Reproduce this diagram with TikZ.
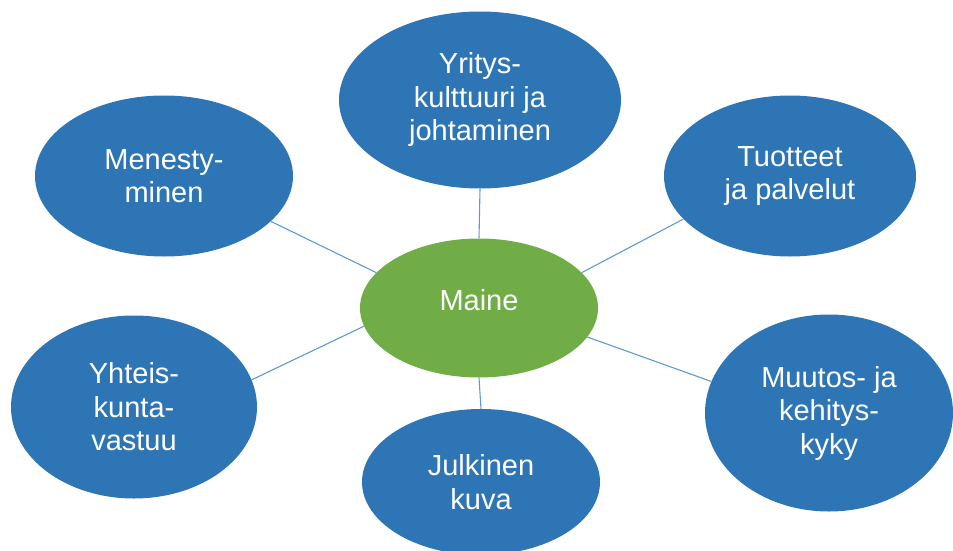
\documentclass[tikz,border=0pt]{standalone}
\usepackage{fontspec}
\setmainfont{Liberation Sans}
\usetikzlibrary{shapes.geometric}
\definecolor{mblue}{HTML}{2E75B6}
\definecolor{mgreen}{HTML}{70AD47}
\definecolor{mline}{HTML}{5B9BD5}
\begin{document}
\begin{tikzpicture}[x=1pt,y=-1pt,
    bubble/.style={ellipse,fill=mblue,text=white,inner sep=0pt,align=center,
      font=\fontsize{29}{33.5}\selectfont},
    hub/.style={bubble,fill=mgreen,text height=21pt,text depth=17pt},
    spoke/.style={draw=mline,line width=1.1pt}]
% pixel coordinates of the reference, y down
  \useasboundingbox (0,0) rectangle (953,551);
  \node[hub,minimum width=238,minimum height=139] (maine) at (479,308) {Maine};
  \node[bubble,minimum width=282,minimum height=177] (yritys) at (480,100)
    {Yritys-\\kulttuuri ja\\johtaminen};
  \node[bubble,minimum width=258,minimum height=161] (menesty) at (164,176)
    {Menesty-\\minen};
  \node[bubble,minimum width=252,minimum height=161] (tuotteet) at (790,176)
    {Tuotteet\\ja palvelut};
  \node[bubble,minimum width=246,minimum height=183] (yhteis) at (134,407)
    {Yhteis-\\kunta-\\vastuu};
  \node[bubble,minimum width=238,minimum height=146] (julkinen) at (481,482)
    {Julkinen\\kuva};
  \node[bubble,minimum width=248,minimum height=197] (muutos) at (829,413)
    {Muutos- ja\\kehitys-\\kyky};
  \draw[spoke] (maine.north) -- (yritys.south);
  \draw[spoke] (maine.161) -- (menesty.-23);
  \draw[spoke] (maine.19) -- (tuotteet.202);
  \draw[spoke] (maine.189) -- (yhteis.13);
  \draw[spoke] (maine.south) -- (julkinen.north);
  \draw[spoke] (maine.-15.5) -- (muutos.165.5);
\end{tikzpicture}
\end{document}
